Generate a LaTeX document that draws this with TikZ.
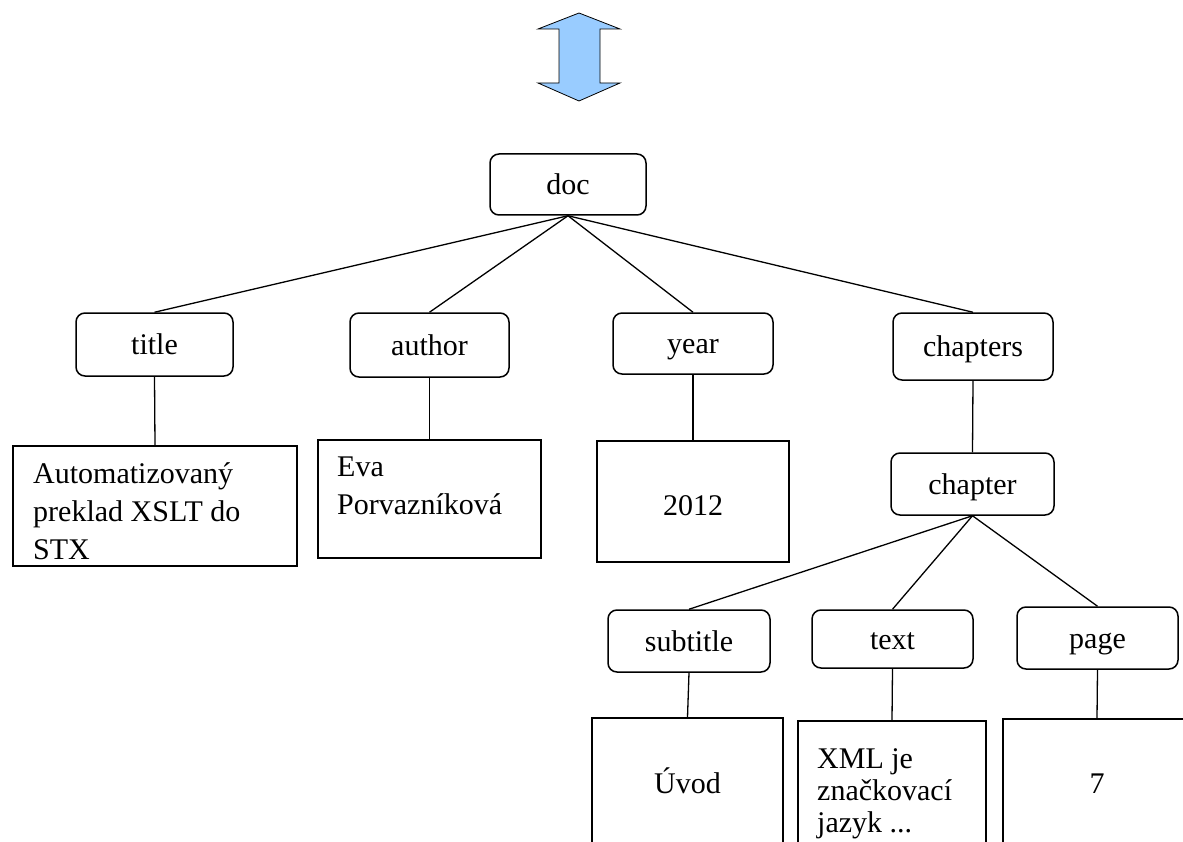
\documentclass[tikz,border=0pt]{standalone}
\usepackage{fontspec}
\setmainfont{Liberation Serif}
\definecolor{arrowblue}{HTML}{99CCFF}
\begin{document}
\begin{tikzpicture}[x=1pt, y=-1pt,
  elem/.style={draw, rounded corners=9pt, line width=1.5pt, inner sep=0pt,
    font=\fontsize{30}{34}\selectfont, text height=20pt, text depth=0pt},
  valbox/.style={draw, line width=1.5pt, inner sep=0pt},
  txt/.style={inner sep=0pt, font=\fontsize{30}{34}\selectfont},
  link/.style={line width=1.3pt}]
\useasboundingbox (0,0) rectangle (1183,842);
\clip (0,0) rectangle (1183,842);

% two-way arrow on top
\filldraw[fill=arrowblue, draw=black, line width=0.8pt, line join=miter]
  (579,13) -- (620,29) -- (600,29) -- (600,83) -- (620,83) -- (579,101)
  -- (538,83) -- (559,83) -- (559,29) -- (538,29) -- cycle;

% element nodes
\node[elem, minimum width=156pt, minimum height=61pt] (doc) at (568,184.5) {doc};
\node[elem, minimum width=157pt, minimum height=63pt] (title) at (154.5,344.5) {title};
\node[elem, minimum width=159pt, minimum height=64pt] (author) at (429.5,345) {author};
\node[elem, minimum width=160pt, minimum height=61pt] (year) at (693,343.5) {year};
\node[elem, minimum width=160pt, minimum height=67pt] (chapters) at (973,346.5) {chapters};
\node[elem, minimum width=163pt, minimum height=62pt] (chapter) at (972.5,484) {chapter};
\node[elem, minimum width=162pt, minimum height=62pt] (subtitle) at (689,641) {subtitle};
\node[elem, minimum width=161pt, minimum height=58pt] (text) at (892.5,639) {text};
\node[elem, minimum width=161pt, minimum height=62pt] (page) at (1097.5,638) {page};

% value boxes
\node[valbox, minimum width=284pt, minimum height=120pt] (tval) at (155,506) {};
\node[valbox, minimum width=223pt, minimum height=118pt] (aval) at (429.5,499) {};
\node[valbox, minimum width=192pt, minimum height=121pt] (yval) at (693,501.5) {};
\node[valbox, minimum width=191pt, minimum height=182pt] (sval) at (687.5,809) {};
\node[valbox, minimum width=188pt, minimum height=179pt] (xval) at (892,810.5) {};
\node[valbox, minimum width=188pt, minimum height=181pt] (pval) at (1097,809.5) {};

% value texts
\node[txt, anchor=base west] (t1) at (33,483) {Automatizovaný};
\node[txt, anchor=base west] (t2) at (33,521) {preklad XSLT do};
\node[txt, anchor=base west] (t3) at (33,559) {STX};
\node[txt, anchor=base west] (a1) at (337,476) {Eva};
\node[txt, anchor=base west] (a2) at (337,514) {Porvazníková};
\node[txt, anchor=base] (y1) at (693,515) {2012};
\node[txt, anchor=base] (s1) at (687.5,793) {Úvod};
\node[txt, anchor=base west] (x1) at (817,768) {XML je};
\node[txt, anchor=base west] (x2) at (817,800) {značkovací};
\node[txt, anchor=base west] (x3) at (817,832) {jazyk ...};
\node[txt, anchor=base] (p1) at (1097,793) {7};

% tree edges
\draw[link] (doc.south) -- (title.north);
\draw[link] (doc.south) -- (author.north);
\draw[link] (doc.south) -- (year.north);
\draw[link] (doc.south) -- (chapters.north);
\draw[link] (chapters.south) -- (chapter.north);
\draw[link] (chapter.south) -- (subtitle.north);
\draw[link] (chapter.south) -- (text.north);
\draw[link] (chapter.south) -- (page.north);

% element to value
\draw[link] (title.south) -- (tval.north);
\draw[link] (author.south) -- (aval.north);
\draw[link] (year.south) -- (yval.north);
\draw[link] (subtitle.south) -- (sval.north);
\draw[link] (text.south) -- (xval.north);
\draw[link] (page.south) -- (pval.north);
\end{tikzpicture}
\end{document}
